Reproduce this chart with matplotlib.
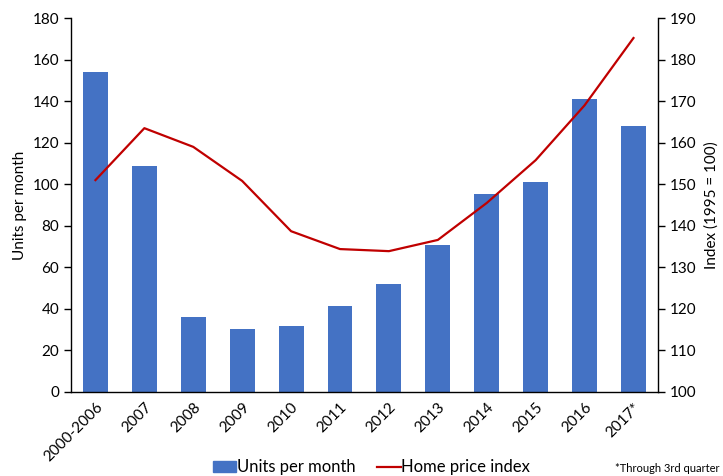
import numpy as np
import matplotlib
matplotlib.use("Agg")
import matplotlib.pyplot as plt
from matplotlib.patches import Patch
from matplotlib.lines import Line2D

plt.rcParams["font.family"] = ["Lato", "DejaVu Sans"]

# data
categories = ["2000-2006", "2007", "2008", "2009", "2010", "2011",
              "2012", "2013", "2014", "2015", "2016", "2017*"]
units_per_month = [154, 109, 36, 30.5, 32, 41.5, 52, 71, 95.5, 101, 141, 128]
home_price_index = [151, 163.5, 159, 150.8, 138.7, 134.4,
                    133.9, 136.6, 145.5, 155.8, 169, 185.2]

BAR_COLOR = "#4472C4"
LINE_COLOR = "#C00000"

fig = plt.figure(figsize=(7.23, 4.76), dpi=100)
ax = fig.add_axes([0.0982, 0.1765, 0.8118, 0.7855])
x = np.arange(len(categories))

ax.bar(x, units_per_month, width=0.51, color=BAR_COLOR, zorder=2)
ax.set_xlim(-0.5, len(categories) - 0.5)
ax.set_ylim(0, 180)
ax.set_yticks(np.arange(0, 181, 20))
ax.set_ylabel("Units per month", fontsize=11, labelpad=4)
ax.set_xticks(x)
ax.set_xticklabels(categories, rotation=45, ha="right", rotation_mode="anchor",
                   fontsize=11)
ax.tick_params(axis="x", length=0, pad=6)
ax.tick_params(axis="y", labelsize=11, length=5, width=1, direction="out")
for side in ["top", "right"]:
    ax.spines[side].set_visible(False)
for side in ["left", "bottom"]:
    ax.spines[side].set_linewidth(1)

ax2 = ax.twinx()
ax2.plot(x, home_price_index, color=LINE_COLOR, linewidth=1.6, zorder=3)
ax2.set_ylim(100, 190)
ax2.set_yticks(np.arange(100, 191, 10))
ax2.set_ylabel("Index (1995 = 100)", fontsize=11, labelpad=6)
ax2.tick_params(axis="y", labelsize=11, length=5, width=1, direction="out")
for side in ["top", "left", "bottom"]:
    ax2.spines[side].set_visible(False)
ax2.spines["right"].set_linewidth(1)

handles = [Patch(color=BAR_COLOR, label="Units per month"),
           Line2D([], [], color=LINE_COLOR, linewidth=1.6, label="Home price index")]
fig.legend(handles=handles, loc="center", bbox_to_anchor=(0.514, 0.018),
           ncol=2, frameon=False, fontsize=12, handlelength=1.4,
           handleheight=0.6, handletextpad=0.05, columnspacing=1.3,
           borderpad=0.1)
fig.text(0.995, 0.016, "*Through 3rd quarter", ha="right", va="center",
         fontsize=8)

fig.savefig("out.png", dpi=100)
